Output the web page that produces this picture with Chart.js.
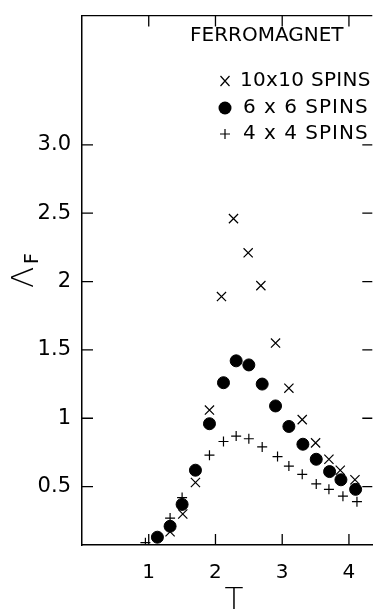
<!DOCTYPE html>
<html>
<head>
<meta charset="utf-8">
<script src="https://cdn.jsdelivr.net/npm/chart.js@4/dist/chart.umd.min.js"></script>
<style>
  html, body { margin: 0; padding: 0; background: #fff; }
  canvas { display: block; }
</style>
</head>
<body>
<canvas id="ferroChart" width="380" height="616"></canvas>
<script>
// temperatures and Lambda_F values
var spins10T = [1.32, 1.51, 1.70, 1.91, 2.09, 2.27, 2.49, 2.68, 2.90, 3.10, 3.30, 3.50, 3.70, 3.87, 4.09];
var spins10L = [0.17, 0.30, 0.53, 1.06, 1.89, 2.46, 2.21, 1.97, 1.55, 1.22, 0.99, 0.82, 0.70, 0.62, 0.55];

var spins6T = [1.13, 1.32, 1.50, 1.70, 1.91, 2.12, 2.31, 2.50, 2.70, 2.90, 3.10, 3.31, 3.51, 3.71, 3.88, 4.10];
var spins6L = [0.13, 0.21, 0.37, 0.62, 0.96, 1.26, 1.42, 1.39, 1.25, 1.09, 0.94, 0.81, 0.70, 0.61, 0.55, 0.48];

var spins4T = [0.95, 1.32, 1.50, 1.91, 2.12, 2.31, 2.50, 2.70, 2.93, 3.10, 3.30, 3.51, 3.70, 3.91, 4.12];
var spins4L = [0.09, 0.27, 0.42, 0.73, 0.83, 0.87, 0.85, 0.79, 0.72, 0.65, 0.59, 0.52, 0.48, 0.43, 0.39];

var xTicks = [1, 2, 3, 4];
var yTicks = [0.5, 1, 1.5, 2, 2.5, 3];
var yTickLabels = ['0.5', '1', '1.5', '2', '2.5', '3.0'];

var legendNames = ['10x10 SPINS', '6 x 6 SPINS', '4 x 4 SPINS'];
var titleText = 'FERROMAGNET';
var xTitle = 'T';

var FONT = '"DejaVu Sans", sans-serif';

function toPoints(xs, ys) {
	var pts = [];
	for (var i = 0; i < xs.length; i++) {
		pts.push({ x: xs[i], y: ys[i] });
	}
	return pts;
}

// inward ticks, top frame line, legend text and the axis titles
const paperPlugin = {
	id: 'paper',
	afterDraw(chart) {
		const ctx = chart.ctx;
		const a = chart.chartArea;
		const xs = chart.scales.x;
		const ys = chart.scales.y;
		ctx.save();
		ctx.strokeStyle = '#000';
		ctx.lineWidth = 1.3;
		ctx.beginPath();
		ctx.moveTo(a.left, a.top);
		ctx.lineTo(a.right, a.top);
		xTicks.forEach(function (v) {
			var px = xs.getPixelForValue(v);
			ctx.moveTo(px, a.bottom);
			ctx.lineTo(px, a.bottom - 11);
			ctx.moveTo(px, a.top);
			ctx.lineTo(px, a.top + 11);
		});
		yTicks.forEach(function (v) {
			var py = ys.getPixelForValue(v);
			ctx.moveTo(a.left, py);
			ctx.lineTo(a.left + 11, py);
			ctx.moveTo(a.right, py);
			ctx.lineTo(a.right - 10, py);
		});
		ctx.stroke();

		// title + legend
		ctx.fillStyle = '#000';
		ctx.textBaseline = 'middle';
		ctx.textAlign = 'left';
		ctx.font = '20px ' + FONT;
		ctx.letterSpacing = '0px';
		ctx.fillText(titleText, 190, 36);

		var rows = [81, 108, 134];
		var mx = 225;
		// x marker
		ctx.lineWidth = 1.2;
		ctx.beginPath();
		ctx.moveTo(mx - 4.5, rows[0] - 5);
		ctx.lineTo(mx + 4.5, rows[0] + 5);
		ctx.moveTo(mx + 4.5, rows[0] - 5);
		ctx.lineTo(mx - 4.5, rows[0] + 5);
		// plus marker
		ctx.moveTo(mx - 5, rows[2]);
		ctx.lineTo(mx + 5, rows[2]);
		ctx.moveTo(mx, rows[2] - 5);
		ctx.lineTo(mx, rows[2] + 5);
		ctx.stroke();
		ctx.beginPath();
		ctx.arc(mx, rows[1], 6.5, 0, Math.PI * 2);
		ctx.fill();

		ctx.font = '20px ' + FONT;
		ctx.letterSpacing = '0.3px';
		ctx.fillText(legendNames[0], 240, rows[0]);
		ctx.letterSpacing = '1px';
		ctx.fillText(legendNames[1], 243, rows[1]);
		ctx.fillText(legendNames[2], 243, rows[2]);
		ctx.letterSpacing = '0px';

		// x title
		ctx.textAlign = 'center';
		ctx.font = '200 31px ' + FONT;
		ctx.fillText(xTitle, 234, 601);

		// y title: Lambda with subscript F, rotated
		ctx.textAlign = 'left';
		ctx.translate(33, 288);
		ctx.rotate(-Math.PI / 2);
		ctx.textBaseline = 'alphabetic';
		ctx.font = '200 31px ' + FONT;
		ctx.fillText('Λ', 0, 0);
		ctx.font = '19px ' + FONT;
		ctx.fillText('F', 24, 5);
		ctx.restore();
	}
};

const data = {
	datasets: [{
		label: legendNames[0],
		data: toPoints(spins10T, spins10L),
		pointStyle: 'crossRot',
		pointRadius: 6.5,
		pointBorderWidth: 1.2,
		borderColor: '#000',
		backgroundColor: '#000'
	}, {
		label: legendNames[1],
		data: toPoints(spins6T, spins6L),
		pointStyle: 'circle',
		pointRadius: 6,
		pointBorderWidth: 1,
		borderColor: '#000',
		backgroundColor: '#000'
	}, {
		label: legendNames[2],
		data: toPoints(spins4T, spins4L),
		pointStyle: 'cross',
		pointRadius: 5,
		pointBorderWidth: 1.2,
		borderColor: '#000',
		backgroundColor: '#000'
	}]
};

const config = {
	type: 'scatter',
	data: data,
	options: {
		responsive: false,
		animation: false,
		layout: { padding: { left: 0, right: 0, top: 6, bottom: 0 } },
		plugins: {
			legend: { display: false },
			tooltip: { enabled: false }
		},
		scales: {
			x: {
				type: 'linear',
				position: 'bottom',
				min: 0,
				max: 4.35,
				afterFit: function (scale) { scale.height = 71; },
				afterBuildTicks: function (scale) {
					scale.ticks = xTicks.map(function (v) { return { value: v }; });
				},
				grid: { display: false },
				border: { display: true, color: '#000', width: 1.5 },
				ticks: {
					color: '#000',
					padding: 8,
					font: { family: FONT, size: 20 },
					callback: function (v) { return String(v); }
				}
			},
			y: {
				type: 'linear',
				min: 0.073,
				max: 3.945,
				afterFit: function (scale) { scale.width = 82; },
				afterBuildTicks: function (scale) {
					scale.ticks = yTicks.map(function (v) { return { value: v }; });
				},
				grid: { display: false },
				border: { display: true, color: '#000', width: 1.5 },
				ticks: {
					color: '#000',
					padding: 3,
					font: { family: FONT, size: 21 },
					callback: function (v) {
						var i = yTicks.indexOf(v);
						return i >= 0 ? yTickLabels[i] : '';
					}
				}
			}
		}
	},
	plugins: [paperPlugin]
};

const ferroChart = new Chart(
	document.getElementById('ferroChart').getContext('2d'),
	config
);
</script>
</body>
</html>
